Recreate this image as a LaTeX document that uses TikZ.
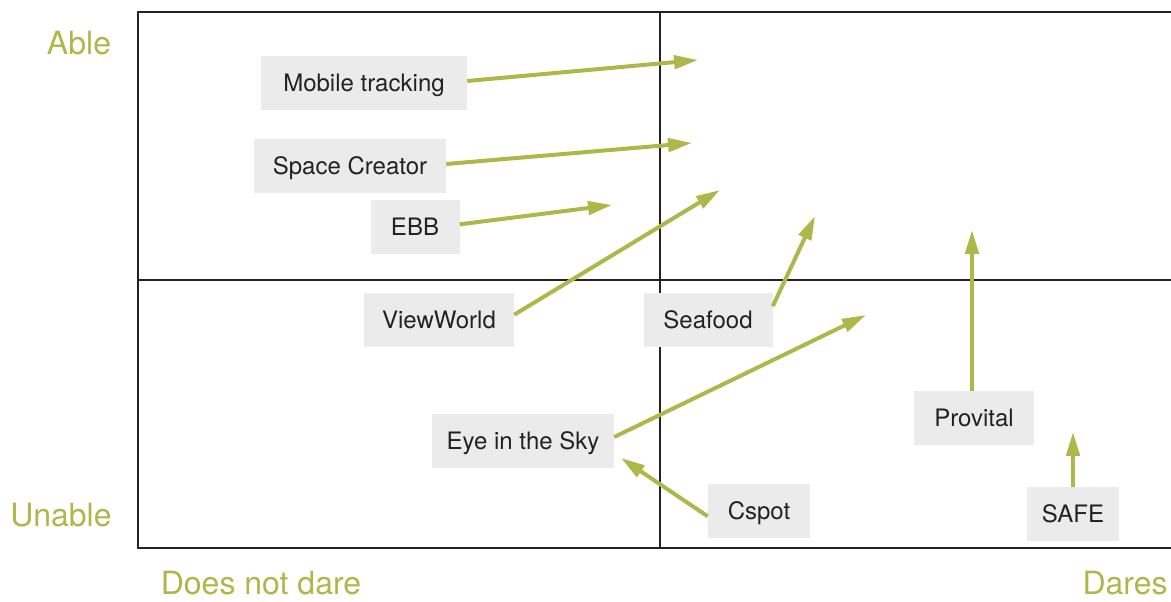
\documentclass[tikz,border=0pt]{standalone}
\usepackage{fontspec}
\setmainfont{TeX Gyre Heros}
\usetikzlibrary{arrows.meta}
\definecolor{dareGreen}{HTML}{AEB84A}
\definecolor{boxGray}{HTML}{EBEBEB}
\definecolor{frameGray}{HTML}{222222}

\begin{document}
\begin{tikzpicture}[x=0.75pt, y=-0.75pt,
   project/.style={fill=boxGray, text=frameGray, inner xsep=4pt, minimum height=40.5pt,
                   text height=13pt, text depth=0pt,
                   minimum width=#1*0.75pt, font=\fontsize{18}{20}\selectfont},
   axislabel/.style={text=dareGreen, inner sep=0pt, font=\fontsize{24}{28}\selectfont},
   move/.style={draw=dareGreen, line width=3pt, -{Triangle[length=18pt, width=10pt]}},
   frame/.style={draw=frameGray, line width=1.6pt}]

\useasboundingbox (0,0) rectangle (1171,601);

% quadrants
\draw[frame] (1171,12) -- (138,12) -- (138,548) -- (1171,548);
\draw[frame] (660,12) -- (660,548);
\draw[frame] (138,280) -- (1171,280);

% axis labels
\node[axislabel] (able)   at (79,43)    {Able};
\node[axislabel] (unable) at (61,515)   {Unable};
\node[axislabel] (nodare) at (261,583)  {Does not dare};
\node[axislabel] (dares)  at (1125,583) {Dares};

% projects
\node[project=206] (mobile)    at (364,83)  {Mobile tracking};
\node[project=192] (space)     at (350,166) {Space Creator};
\node[project=89]  (ebb)       at (415,227) {EBB};
\node[project=150] (viewworld) at (439,320) {ViewWorld};
\node[project=129] (seafood)   at (708,320) {Seafood};
\node[project=182] (eye)       at (523,441) {Eye in the Sky};
\node[project=102] (cspot)     at (759,511) {Cspot};
\node[project=120] (provital)  at (974,418) {Provital};
\node[project=92]  (safe)      at (1073,514) {SAFE};

% where they are heading
\coordinate (mobile-to)    at (698,60);
\coordinate (space-to)     at (692,143);
\coordinate (ebb-to)       at (612,205);
\coordinate (viewworld-to) at (720,190);
\coordinate (seafood-to)   at (815,216);
\coordinate (eye-to)       at (866,315);
\coordinate (cspot-to)     at (621,458);
\coordinate (provital-to)  at (972,230);
\coordinate (safe-to)      at (1073,432);

\draw[move] ([yshift=1.5pt]mobile.east) -- (mobile-to);
\draw[move] ([yshift=1.5pt]space.east) -- (space-to);
\draw[move] ([yshift=2pt]ebb.east) -- (ebb-to);
\draw[move] ([yshift=4pt]viewworld.east) -- (viewworld-to);
\draw[move] (seafood.12) -- (seafood-to);
\draw[move] ([yshift=3pt]eye.east) -- (eye-to);
\draw[move] ([yshift=-4pt]cspot.west) -- (cspot-to);
\draw[move] ([xshift=-1.5pt]provital.north) -- (provital-to);
\draw[move] (safe.north) -- (safe-to);

\end{tikzpicture}
\end{document}
